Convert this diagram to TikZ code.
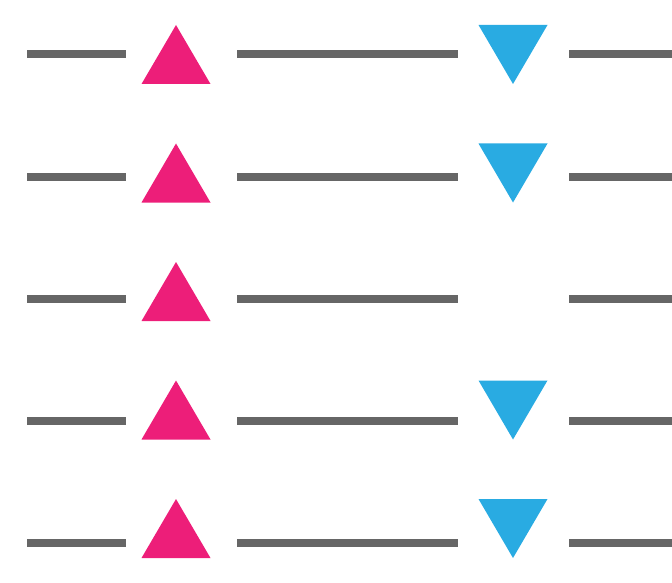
\documentclass[tikz,border=0pt]{standalone}
\definecolor{linegray}{HTML}{666666}
\definecolor{tripink}{HTML}{ED1E79}
\definecolor{triblue}{HTML}{29ABE2}
\begin{document}
\begin{tikzpicture}[x=1pt,y=-1pt,
  bar/.style={draw=linegray,line width=8pt,line cap=butt},
  uptri/.style={fill=tripink},
  downtri/.style={fill=triblue}]
\useasboundingbox (0,0) rectangle (672,583);
\foreach \i/\ly/\ty/\hasblue in {1/54/25/1,2/177/143.5/1,3/299/262/0,4/421/380.5/1,5/543/499/1}{
  \coordinate (a\i) at (27,\ly);
  \coordinate (b\i) at (126,\ly);
  \coordinate (c\i) at (237,\ly);
  \coordinate (d\i) at (458,\ly);
  \coordinate (e\i) at (569,\ly);
  \coordinate (f\i) at (672,\ly);
  \draw[bar] (a\i) -- (b\i);
  \draw[bar] (c\i) -- (d\i);
  \draw[bar] (e\i) -- (f\i);
  \fill[uptri] (176,\ty) -- (210.5,\ty+59) -- (141.5,\ty+59) -- cycle;
  \ifnum\hasblue=1
    \fill[downtri] (478.5,\ty) -- (547.5,\ty) -- (513,\ty+59) -- cycle;
  \fi
}
\end{tikzpicture}
\end{document}
